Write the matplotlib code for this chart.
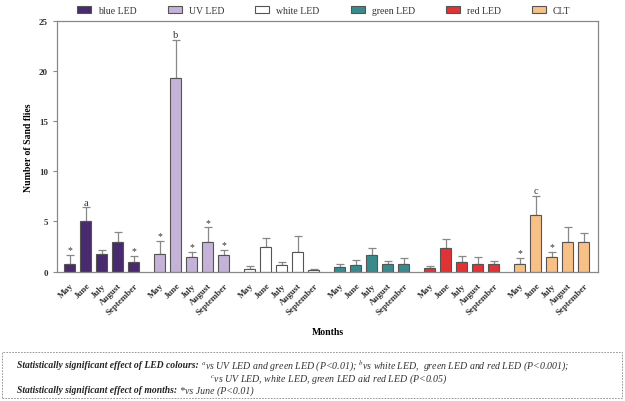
import numpy as np
import matplotlib
matplotlib.use("Agg")
import matplotlib.pyplot as plt
from matplotlib.patches import Rectangle

plt.rcParams['font.family'] = ['Liberation Serif', 'DejaVu Serif']
plt.rcParams['mathtext.fontset'] = 'stix'

# ----- данные ----- #
months = ["May", "June", "July", "August", "September"]
groups = ["blue LED", "UV LED", "white LED", "green LED", "red LED", "CLT"]
colors = ["#4a2a6e", "#c4b3d6", "#ffffff", "#3a8a8d", "#e03336", "#f6c086"]

blue_led = [0.8, 5.0, 1.8, 3.0, 1.0]
uv_led = [1.8, 19.35, 1.5, 3.0, 1.65]
white_led = [0.3, 2.5, 0.65, 2.0, 0.15]
green_led = [0.5, 0.65, 1.7, 0.8, 0.8]
red_led = [0.35, 2.35, 1.0, 0.8, 0.8]
clt = [0.8, 5.65, 1.5, 3.0, 3.0]

blue_err = [0.85, 1.4, 0.4, 0.9, 0.6]
uv_err = [1.25, 3.8, 0.5, 1.4, 0.5]
white_err = [0.25, 0.85, 0.35, 1.5, 0.15]
green_err = [0.3, 0.55, 0.7, 0.3, 0.55]
red_err = [0.2, 0.85, 0.6, 0.7, 0.3]
clt_err = [0.6, 1.9, 0.5, 1.4, 0.85]

# метки над столбиками: (группа, месяц, текст)
marks = [(0, 0, "*"), (0, 1, "a"), (0, 4, "*"),
         (1, 0, "*"), (1, 1, "b"), (1, 2, "*"), (1, 3, "*"), (1, 4, "*"),
         (5, 0, "*"), (5, 1, "c"), (5, 2, "*")]

values = [blue_led, uv_led, white_led, green_led, red_led, clt]
errors = [blue_err, uv_err, white_err, green_err, red_err, clt_err]

GROUP_STEP = 5.625
WIDTH = 0.69

fig = plt.figure(figsize=(6.25, 4.02), dpi=100)
ax = fig.add_axes([0.0912, 0.322, 0.866, 0.623])

xticks, xlabels = [], []
for g, (vals, errs) in enumerate(zip(values, errors)):
    x = g * GROUP_STEP + np.arange(len(months))
    ax.bar(x, vals, width=WIDTH, color=colors[g], edgecolor="#555555",
           linewidth=0.8, label=groups[g], zorder=2)
    ax.errorbar(x, vals, yerr=[np.zeros(len(vals)), errs], fmt="none",
                ecolor="#888888", elinewidth=0.9, capsize=2.8, capthick=0.9, zorder=1)
    xticks.extend(x)
    xlabels.extend(months)

for g, m, txt in marks:
    top = values[g][m] + errors[g][m]
    ax.annotate(txt, (g * GROUP_STEP + m, top), xytext=(0, 0.5),
                textcoords="offset points", ha="center", va="bottom",
                fontsize=7 if txt == "*" else 7.5, color="#333333")

ax.set_xlim(-0.8, 5 * GROUP_STEP + 4.9)
ax.set_ylim(0, 25)
ax.set_yticks([0, 5, 10, 15, 20, 25])
ax.set_xticks(xticks)
ax.set_xticklabels(xlabels, rotation=45, ha="right", rotation_mode="anchor",
                   fontsize=6.5, fontweight="bold", color="#333333")
for lbl in ax.get_yticklabels():
    lbl.set_fontweight("bold")
ax.tick_params(axis="y", labelsize=6.5, colors="#888888", labelcolor="#333333",
               length=3, width=0.8)
ax.tick_params(axis="x", length=0, pad=7)
for sp in ax.spines.values():
    sp.set_color("#888888")
    sp.set_linewidth(0.9)

ax.set_ylabel("Number of Sand flies", fontsize=7, fontweight="bold", labelpad=4)
ax.set_xlabel("Months", fontsize=7, fontweight="bold", labelpad=8)

fig.legend(loc="center", bbox_to_anchor=(0.518, 0.972), ncol=6, frameon=False,
           fontsize=7, handlelength=1.45, handleheight=0.7, columnspacing=3.2,
           handletextpad=0.7, labelcolor="#333333")

# подпись со статистикой в пунктирной рамке
fig.patches.append(Rectangle((2 / 625, 3 / 402), 620 / 625, 46 / 402,
                             transform=fig.transFigure, fill=False,
                             edgecolor="#888888", linestyle=(0, (2, 1.5)),
                             linewidth=0.6))

fs_b = 6.9
fs_i = 7.1
fig.canvas.draw()
r = fig.canvas.get_renderer()


def text_pair(x, y, bold, rest):
    t1 = fig.text(x, y, bold, fontsize=fs_b, fontweight="bold", fontstyle="italic",
                  va="center", color="#222222")
    bb = t1.get_window_extent(r)
    fig.text(bb.x1 / fig.bbox.width + 0.004, y, rest, fontsize=fs_i,
             fontstyle="italic", va="center", color="#333333")


text_pair(17 / 625, 1 - 366 / 402, "Statistically significant effect of LED colours:",
          r"$^{a}$vs UV LED and green LED (P<0.01); $^{b}$vs white LED,  "
          r"green LED and red LED (P<0.001);")
fig.text(210 / 625, 1 - 379 / 402,
         r"$^{c}$vs UV LED, white LED, green LED aid red LED (P<0.05)",
         fontsize=fs_i, fontstyle="italic", va="center", color="#333333")
text_pair(17 / 625, 1 - 391 / 402, "Statistically significant effect of months:",
          r"*vs June (P<0.01)")

fig.savefig("out.png", dpi=100)
